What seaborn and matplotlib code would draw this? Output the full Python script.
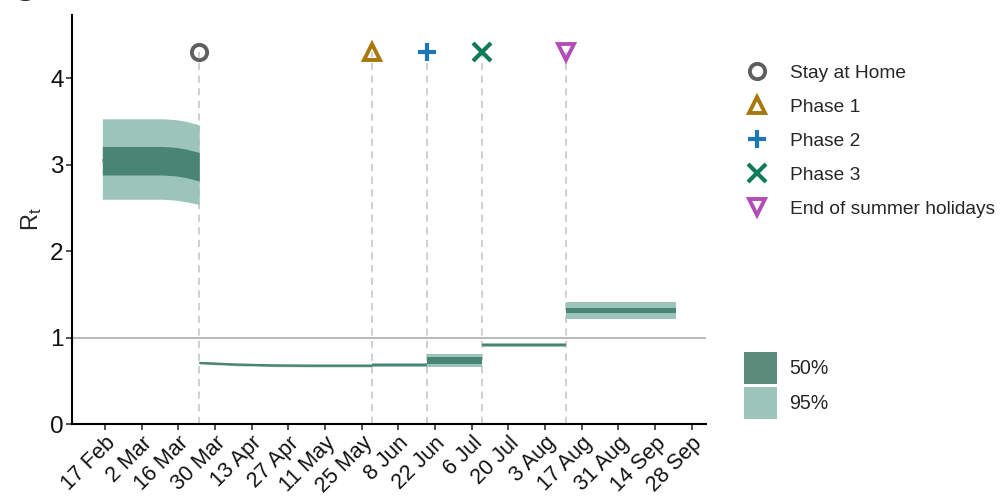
import numpy as np
import pandas as pd
import matplotlib
matplotlib.use('Agg')
import matplotlib.pyplot as plt
import matplotlib.dates as mdates
from matplotlib.patches import Patch
from matplotlib.lines import Line2D
import seaborn as sns

# R_t estimates, one block per policy period (Scotland 2020)
seg1_dates = ['2020-02-16', '2020-03-01', '2020-03-10', '2020-03-15', '2020-03-19', '2020-03-24']
seg1_lo95 = [2.60, 2.60, 2.60, 2.59, 2.57, 2.54]
seg1_lo50 = [2.88, 2.88, 2.88, 2.87, 2.85, 2.81]
seg1_med = [3.05, 3.05, 3.05, 3.04, 3.02, 2.98]
seg1_hi50 = [3.21, 3.21, 3.21, 3.20, 3.18, 3.14]
seg1_hi95 = [3.53, 3.53, 3.53, 3.52, 3.50, 3.46]

seg2_dates = ['2020-03-24', '2020-04-07', '2020-04-21', '2020-05-05', '2020-05-29']
seg2_lo95 = [0.695, 0.675, 0.665, 0.662, 0.662]
seg2_lo50 = [0.702, 0.683, 0.673, 0.670, 0.670]
seg2_med = [0.709, 0.690, 0.680, 0.677, 0.677]
seg2_hi50 = [0.716, 0.697, 0.687, 0.684, 0.684]
seg2_hi95 = [0.723, 0.705, 0.695, 0.692, 0.692]

seg3_dates = ['2020-05-29', '2020-06-19']
seg3_lo95 = [0.655, 0.655]
seg3_lo50 = [0.668, 0.668]
seg3_med = [0.680, 0.680]
seg3_hi50 = [0.692, 0.692]
seg3_hi95 = [0.712, 0.712]

seg4_dates = ['2020-06-19', '2020-07-10']
seg4_lo95 = [0.665, 0.665]
seg4_lo50 = [0.70, 0.70]
seg4_med = [0.735, 0.735]
seg4_hi50 = [0.775, 0.775]
seg4_hi95 = [0.815, 0.815]

seg5_dates = ['2020-07-10', '2020-08-11']
seg5_lo95 = [0.895, 0.895]
seg5_lo50 = [0.908, 0.908]
seg5_med = [0.916, 0.916]
seg5_hi50 = [0.925, 0.925]
seg5_hi95 = [0.94, 0.94]

seg6_dates = ['2020-08-11', '2020-09-09', '2020-09-09', '2020-09-22']
seg6_lo95 = [1.22, 1.22, 1.22, 1.22]
seg6_lo50 = [1.285, 1.285, 1.28, 1.28]
seg6_med = [1.318, 1.318, 1.312, 1.312]
seg6_hi50 = [1.348, 1.348, 1.342, 1.342]
seg6_hi95 = [1.41, 1.41, 1.41, 1.41]

segments = [
    (seg1_dates, seg1_lo95, seg1_lo50, seg1_med, seg1_hi50, seg1_hi95),
    (seg2_dates, seg2_lo95, seg2_lo50, seg2_med, seg2_hi50, seg2_hi95),
    (seg3_dates, seg3_lo95, seg3_lo50, seg3_med, seg3_hi50, seg3_hi95),
    (seg4_dates, seg4_lo95, seg4_lo50, seg4_med, seg4_hi50, seg4_hi95),
    (seg5_dates, seg5_lo95, seg5_lo50, seg5_med, seg5_hi50, seg5_hi95),
    (seg6_dates, seg6_lo95, seg6_lo50, seg6_med, seg6_hi50, seg6_hi95),
]

event_names = ['Stay at Home', 'Phase 1', 'Phase 2', 'Phase 3', 'End of summer holidays']
event_dates = ['2020-03-24', '2020-05-29', '2020-06-19', '2020-07-10', '2020-08-11']
event_markers = ['o', '^', '+', 'x', 'v']
event_colors = ['#5f5f5f', '#a8780a', '#1f77b4', '#0f7b58', '#b14db4']
event_y = 4.3

tick_dates = pd.date_range('2020-02-17', '2020-09-28', freq='14D')

col95 = '#9dc4b9'
col50 = '#4a8474'
col50_leg = '#5b8a7b'

sns.set_theme(style='ticks')
plt.rcParams['font.family'] = ['Liberation Sans', 'DejaVu Sans']
plt.rcParams['mathtext.default'] = 'regular'

fig = plt.figure(figsize=(10, 4.99), dpi=100)
ax = fig.add_axes([0.072, 0.150, 0.634, 0.820])

ax.axhline(1, color='#b3b3b3', lw=1.3, zorder=1)

for d, lo95, lo50, med, hi50, hi95 in segments:
    df = pd.DataFrame({'date': pd.to_datetime(d), 'lo95': lo95, 'lo50': lo50,
                       'med': med, 'hi50': hi50, 'hi95': hi95})
    ax.fill_between(df['date'], df['lo95'], df['hi95'], color=col95, lw=0, zorder=2)
    sns.lineplot(data=df, x='date', y='med', ax=ax, color=col50, lw=1.5,
                 legend=False, zorder=2.5, solid_capstyle='butt')
    ax.fill_between(df['date'], df['lo50'], df['hi50'], color=col50, lw=0, zorder=3)

for name, d, m, c in zip(event_names, event_dates, event_markers, event_colors):
    dt = pd.Timestamp(d)
    ax.plot([dt, dt], [0, event_y], color='#cccccc', lw=1.3, ls=(0, (4, 3)), zorder=1)
    if m in ['+', 'x']:
        ax.plot(dt, event_y, marker=m, color=c, ms=13, mew=3.0, ls='none', zorder=5)
    else:
        ax.plot(dt, event_y, marker=m, mfc='none', mec=c, ms=11, mew=2.8,
                ls='none', zorder=5)

ax.set_xlim(pd.Timestamp('2020-02-04 10:00'), pd.Timestamp('2020-10-03 12:00'))
ax.set_ylim(0, 4.73)
ax.set_xticks(tick_dates)
ax.xaxis.set_major_formatter(mdates.DateFormatter('%-d %b'))
ax.set_yticks([0, 1, 2, 3, 4])
ax.tick_params(axis='y', labelsize=17.5, length=4, width=1.2, color='#333333', pad=2,
               labelcolor='#111111')
ax.tick_params(axis='x', labelsize=15.5, length=4, width=1.2, color='#333333', pad=2,
               labelcolor='#111111')
for lab in ax.get_xticklabels():
    lab.set_rotation(45)
    lab.set_ha('right')
    lab.set_rotation_mode('anchor')
ax.set_xlabel('')
ax.set_ylabel('R$_t$', fontsize=17, labelpad=4)
for s in ['top', 'right']:
    ax.spines[s].set_visible(False)
for s in ['left', 'bottom']:
    ax.spines[s].set_linewidth(1.5)
    ax.spines[s].set_color('black')

ev_handles = []
for name, m, c in zip(event_names, event_markers, event_colors):
    if m in ['+', 'x']:
        h = Line2D([], [], marker=m, color=c, ms=13, mew=3.0, ls='none')
    else:
        h = Line2D([], [], marker=m, mfc='none', mec=c, ms=11, mew=2.8, ls='none')
    ev_handles.append(h)
leg1 = fig.legend(ev_handles, event_names, loc='upper left', bbox_to_anchor=(0.738, 0.886),
                  frameon=False, fontsize=13.8, handlelength=1.2, handletextpad=1.1,
                  labelspacing=0.86, borderaxespad=0)

ci_handles = [Patch(facecolor=col50_leg, edgecolor='none'), Patch(facecolor=col95, edgecolor='none')]
leg2 = fig.legend(ci_handles, ['50%', '95%'], loc='upper left', bbox_to_anchor=(0.736, 0.310),
                  frameon=False, fontsize=14.1, handlelength=1.7, handleheight=2.15,
                  handletextpad=0.6, labelspacing=0.12, borderaxespad=0)

fig.text(0.018, 1.009, 'g', fontsize=18, fontweight='bold', family='DejaVu Serif',
         va='baseline')

fig.savefig('out.png', dpi=100)
